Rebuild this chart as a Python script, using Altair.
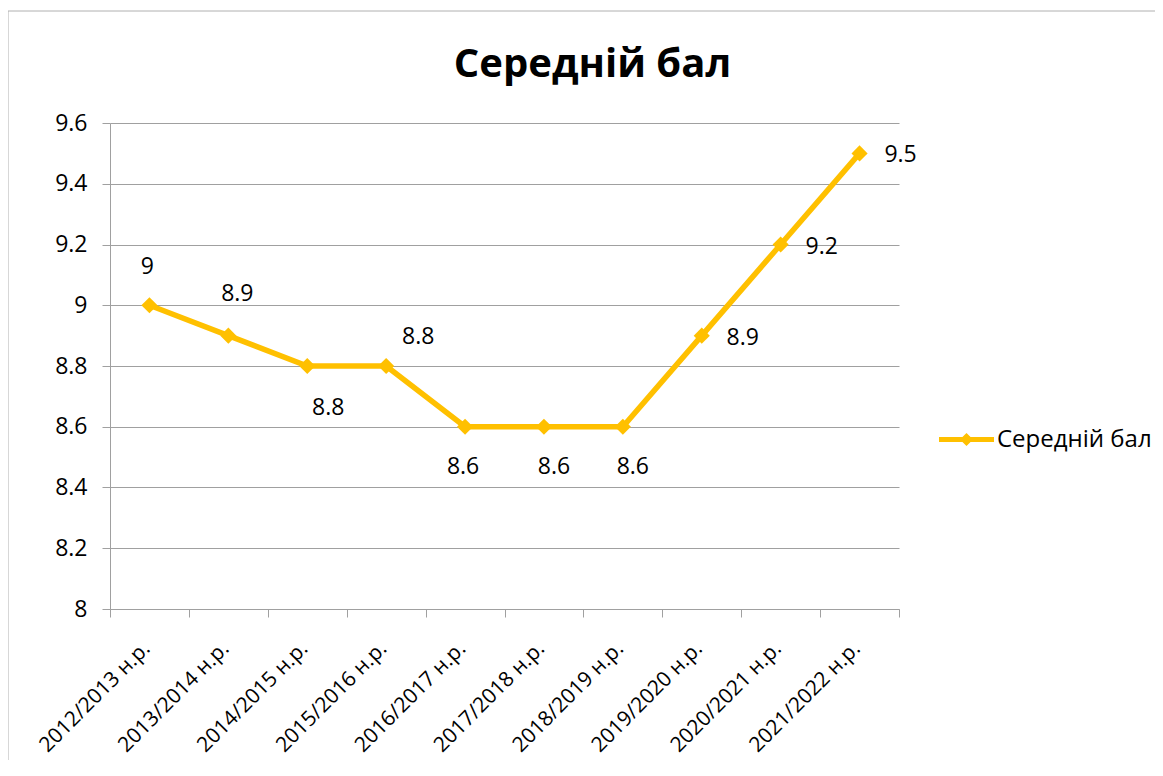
import altair as alt
import pandas as pd

# ---- data ----
years = ["2012/2013 н.р.", "2013/2014 н.р.", "2014/2015 н.р.", "2015/2016 н.р.",
         "2016/2017 н.р.", "2017/2018 н.р.", "2018/2019 н.р.", "2019/2020 н.р.",
         "2020/2021 н.р.", "2021/2022 н.р."]
scores = [9.0, 8.9, 8.8, 8.8, 8.6, 8.6, 8.6, 8.9, 9.2, 9.5]
series_name = "Середній бал"
y_ticks = [8.0, 8.2, 8.4, 8.6, 8.8, 9.0, 9.2, 9.4, 9.6]
title_text = "Середній бал"

df = pd.DataFrame({"year": years, "score": scores, "series": [series_name] * len(years),
                   "idx": list(range(len(years)))})

# ---- style ----
FONT = "Open Sans"
GOLD = "#FFC000"
GRID = "#A0A0A0"
W, H = 789, 486

# data-label offsets (dx, dy) per point index, grouped
label_offsets = {
    (-2, -38): [0],
    (9, -42): [1],
    (21, 42): [2],
    (32, -29): [3],
    (-2, 40): [4],
    (10, 40): [5, 6],
    (41, 2): [7, 8, 9],
}

x_enc = alt.X("year:N", sort=years, bandPosition=0.5,
              scale=alt.Scale(type="band", paddingInner=0, paddingOuter=0),
              axis=alt.Axis(title=None, labelAngle=-45, labelAlign="right",
                            labelBaseline="middle", labelPadding=28, labelOffset=-3,
                            tickBand="extent",
                            tickSize=8, domainColor=GRID, tickColor=GRID, grid=False,
                            labelFont=FONT, labelFontSize=21, labelColor="black"))
y_enc = alt.Y("score:Q", scale=alt.Scale(domain=[8, 9.6], nice=False, zero=False),
              axis=alt.Axis(title=None, values=y_ticks, format=".1~f", tickSize=8,
                            grid=True, gridColor=GRID, domainColor=GRID, tickColor=GRID,
                            labelFont=FONT, labelFontSize=23, labelColor="black",
                            labelPadding=15))

base = alt.Chart(df)

border = base.mark_rect(fill="transparent", stroke="#B0B0B0", strokeWidth=1, clip=False).encode(
    x=alt.value(-102), x2=alt.value(1200), y=alt.value(-112), y2=alt.value(900)
).transform_filter("datum.idx == 0")

line = base.mark_line(color=GOLD, strokeWidth=5.5).encode(x=x_enc, y=y_enc)

legend_path = ("M-1,-0.09L1,-0.09L1,0.09L-1,0.09Z "
               "M0,-0.24L0.24,0L0,0.24L-0.24,0Z")
points = base.mark_point(shape="diamond", filled=True, size=260, opacity=1).encode(
    x=x_enc, y=y_enc,
    color=alt.Color("series:N", scale=alt.Scale(domain=[series_name], range=[GOLD]),
                    legend=alt.Legend(title=None, orient="none", legendX=829, legendY=289,
                                      symbolType=legend_path, symbolSize=3025,
                                      symbolStrokeWidth=0, labelFont=FONT,
                                      labelFontSize=24, labelColor="black", labelOffset=3))
)

label_layers = []
for (dx, dy), idxs in label_offsets.items():
    cond = " || ".join(f"datum.idx == {i}" for i in idxs)
    label_layers.append(
        base.transform_filter(cond).mark_text(dx=dx, dy=dy, font=FONT, fontSize=23,
                                              color="black").encode(
            x=x_enc, y=y_enc, text=alt.Text("score:Q", format=".1~f"))
    )

chart = alt.layer(border, line, points, *label_layers).properties(
    width=W, height=H,
    title=alt.Title(title_text, font=FONT, fontSize=40, fontWeight="bold", color="black",
                    anchor="middle", dx=88, offset=0, dy=106, baseline="alphabetic"),
    autosize=alt.AutoSizeParams(type="none"),
    padding={"left": 102, "top": 115, "right": 256, "bottom": 151},
).configure_view(strokeWidth=0)

chart.save("out.html", embed_options={"renderer": "svg", "actions": False})
